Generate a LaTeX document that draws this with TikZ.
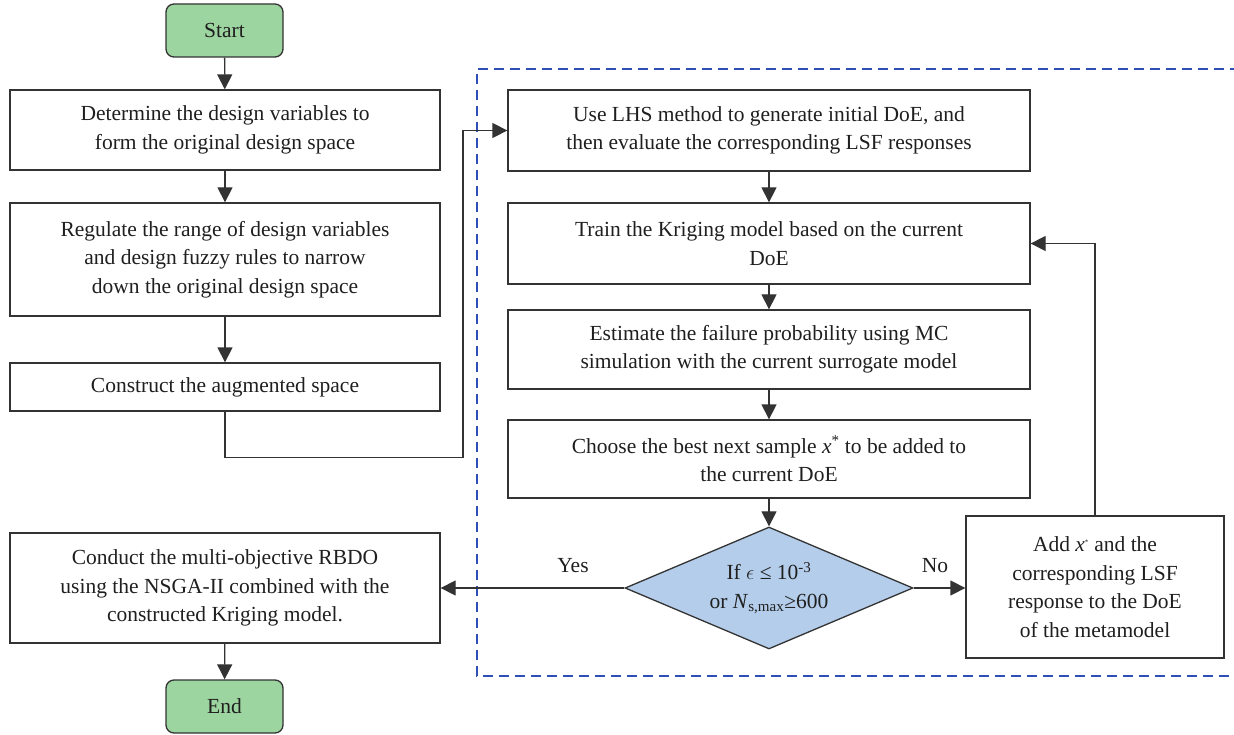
\documentclass[tikz,border=0pt]{standalone}
\usepackage{fontspec}
\setmainfont{Liberation Serif}
\usetikzlibrary{arrows.meta,shapes.geometric}
\definecolor{linegray}{HTML}{333333}
\definecolor{termgreen}{HTML}{9DD5A0}
\definecolor{decblue}{HTML}{B4CDEA}
\definecolor{loopblue}{HTML}{2E4FB5}
\tikzset{
  every node/.style={font=\fontsize{21.5}{28.5}\selectfont, text=black!88},
  procbox/.style={draw=linegray, line width=1.3pt, fill=white, inner sep=0pt, align=center},
  termbox/.style={draw=linegray, line width=1.3pt, fill=termgreen, rounded corners=8pt,
    minimum width=117pt, minimum height=53pt, inner sep=0pt},
  decision/.style={diamond, draw=linegray, line width=1.3pt, fill=decblue, aspect=2.36,
    minimum width=288pt, minimum height=122pt, inner sep=0pt, align=center},
  flow/.style={draw=linegray, line width=1.3pt, -{Triangle[length=15pt,width=15pt]}},
  loopframe/.style={draw=loopblue, line width=2pt, dash pattern=on 10pt off 6pt},
  lbl/.style={inner sep=0pt}
}
\begin{document}
\begin{tikzpicture}[x=1pt,y=-1pt]
\useasboundingbox (0,0) rectangle (1234,735);

% surrogate-model loop frame
\draw[loopframe] (1240,69) -- (477,69) -- (477,676) -- (1240,676);

% left column
\node[termbox] (start) at (224.5,30.5) {Start};
\node[procbox, minimum width=430pt, minimum height=80pt] (dv) at (225,130)
  {Determine the design variables to\\form the original design space};
\node[procbox, minimum width=430pt, minimum height=113pt] (reg) at (225,259.5)
  {Regulate the range of design variables\\and design fuzzy rules to narrow\\down the original design space};
\node[procbox, minimum width=430pt, minimum height=48pt] (aug) at (225,387)
  {Construct the augmented space};
\node[procbox, minimum width=430pt, minimum height=110pt] (rbdo) at (225,588)
  {Conduct the multi-objective RBDO\\using the NSGA-II combined with the\\constructed Kriging model.};
\node[termbox] (end) at (224.5,706.5) {End};

% right column
\node[procbox, minimum width=522pt, minimum height=81pt] (lhs) at (769,130.5)
  {Use LHS method to generate initial DoE, and\\then evaluate the corresponding LSF responses};
\node[procbox, minimum width=522pt, minimum height=81pt] (train) at (769,243.5)
  {Train the Kriging model based on the current\\DoE};
\node[procbox, minimum width=522pt, minimum height=79pt] (mc) at (769,349.5)
  {Estimate the failure probability using MC\\simulation with the current surrogate model};
\node[procbox, minimum width=522pt, minimum height=78pt] (next) at (769,459)
  {Choose the best next sample \textit{x}\textsuperscript{*} to be added to\\the current DoE};
\node[decision] (conv) at (769,588)
  {If $\epsilon$ ≤ 10\textsuperscript{-3}\\or \textit{N}\textsubscript{s,max}≥600};
\node[procbox, minimum width=258pt, minimum height=142pt] (add) at (1095,587)
  {Add \textit{x}\textsuperscript{\scriptsize *} and the\\corresponding LSF\\response to the DoE\\of the metamodel};

% connectors
\draw[flow] (start) -- (dv);
\draw[flow] (dv) -- (reg);
\draw[flow] (reg) -- (aug);
\draw[flow] (aug.south) -- ++(0,46) -| (463,130.5) -- (lhs.west);
\draw[flow] (lhs) -- (train);
\draw[flow] (train) -- (mc);
\draw[flow] (mc) -- (next);
\draw[flow] (next) -- (conv);
\draw[flow] (conv.west) -- (conv.west -| rbdo.east);
\draw[flow] (conv.east) -- (conv.east -| add.west);
\draw[flow] (add.north) |- (train.east);
\draw[flow] (rbdo) -- (end);

% branch labels
\node[lbl] (yes) at (573,566) {Yes};
\node[lbl] (no) at (935,566) {No};
\end{tikzpicture}
\end{document}
